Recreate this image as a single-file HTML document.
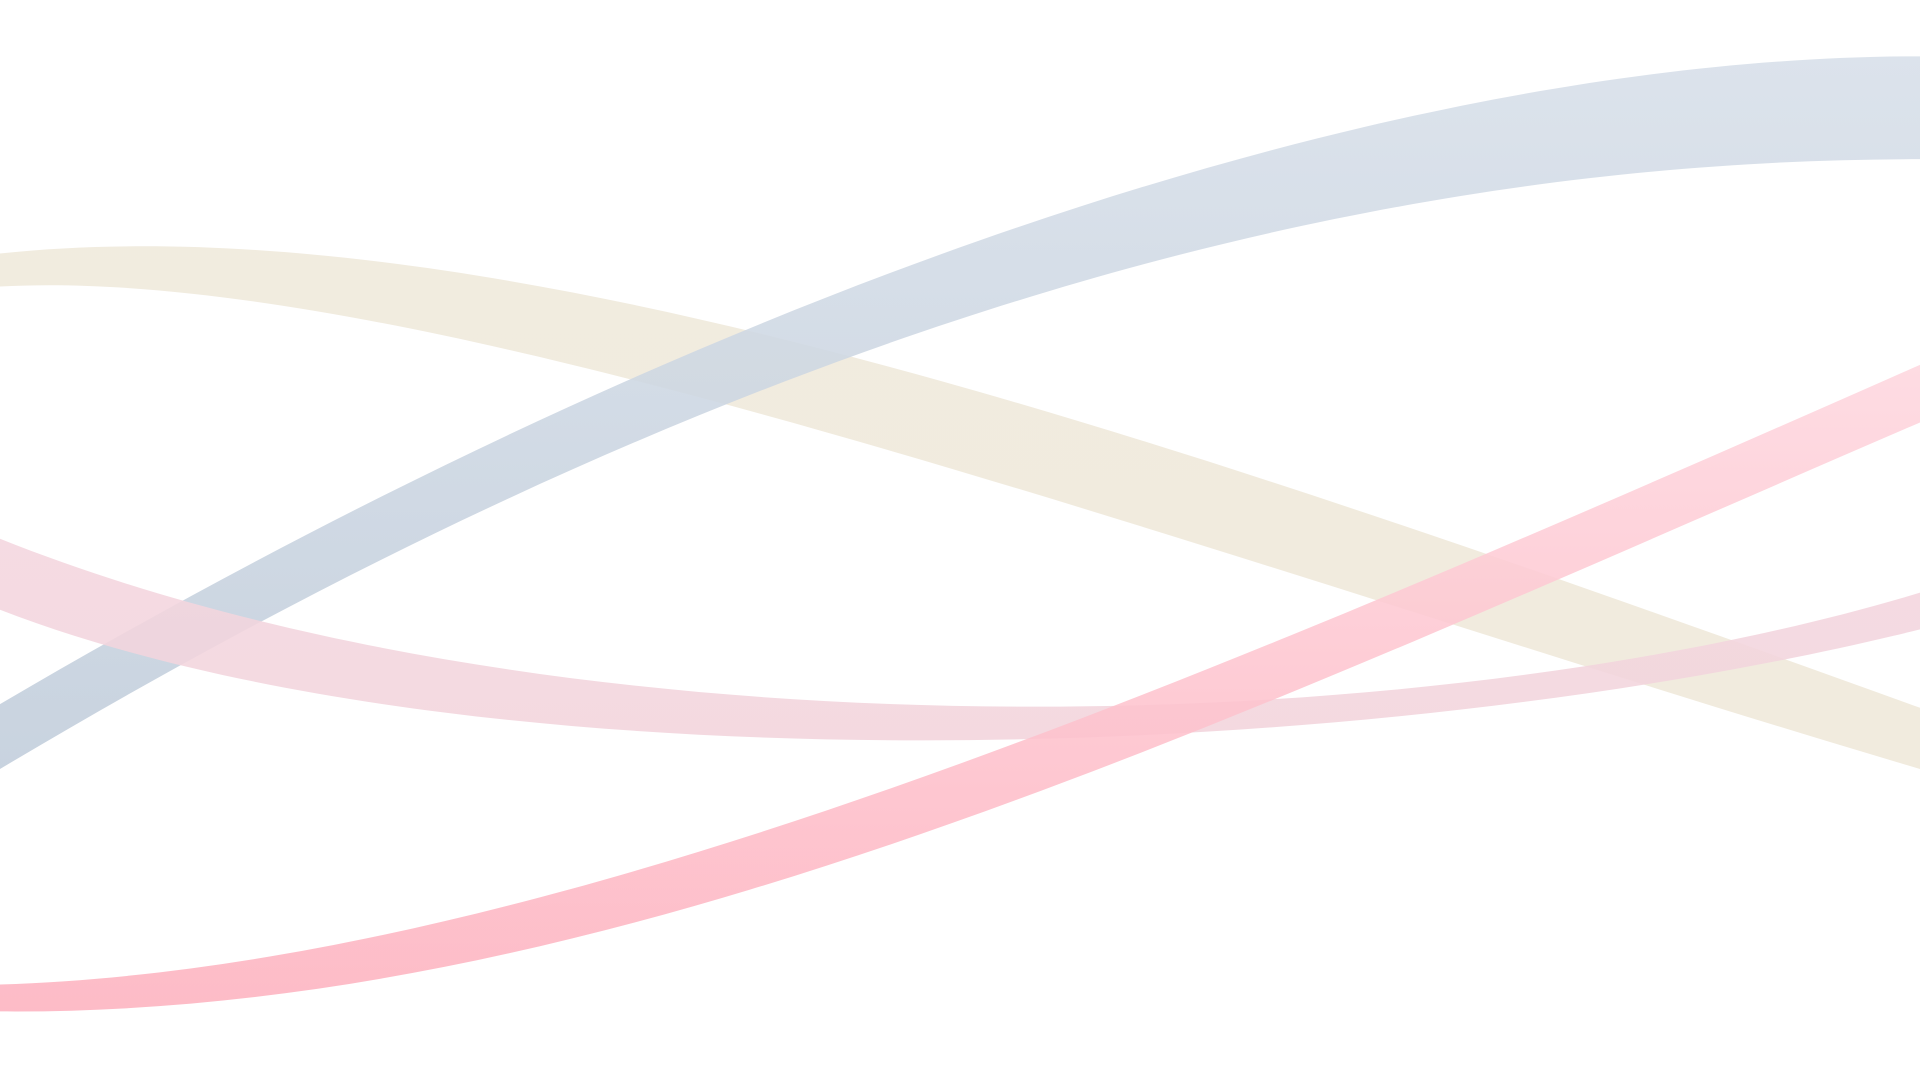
<!DOCTYPE html>
<html>
<head>
<meta charset="utf-8">
<style>
html,body{margin:0;padding:0;background:#fff;width:1920px;height:1080px;overflow:hidden;}
svg{display:block;}
</style>
</head>
<body>
<svg id="chart" width="1920" height="1080" viewBox="0 0 1568 882" preserveAspectRatio="none" xmlns="http://www.w3.org/2000/svg">
<defs>
<linearGradient id="gBlue" x1="0" y1="1" x2="0" y2="0"><stop offset="0" stop-color="#c1cddb"/><stop offset="1" stop-color="#d7dfe9"/></linearGradient>
<linearGradient id="gBeige" x1="0" y1="0" x2="0" y2="1"><stop offset="0" stop-color="#efe9db"/><stop offset="1" stop-color="#efe8d9"/></linearGradient>
<linearGradient id="gPinkL" x1="0" y1="0" x2="0" y2="1"><stop offset="0" stop-color="#f4d6df"/><stop offset="1" stop-color="#f2d4dc"/></linearGradient>
<linearGradient id="gPink" x1="0" y1="1" x2="0" y2="0"><stop offset="0" stop-color="#fdb2bf"/><stop offset="1" stop-color="#fed7df"/></linearGradient>
</defs>
<g id="bands"></g>
</svg>
<script>
const ribbonNames = ['blue-ribbon','beige-ribbon','light-pink-ribbon','pink-ribbon'];
const ribbonFills = ['url(#gBlue)','url(#gBeige)','url(#gPinkL)','url(#gPink)'];
// Each edge: start, control1, control2, end
const blueTopX = [0,600,1150,1568];
const blueTopY = [575,223,46,46];
const blueBotX = [0,650,1150,1568];
const blueBotY = [628,240,130,130];
const beigeTopX = [0,400,950,1568];
const beigeTopY = [207,165,355,578];
const beigeBotX = [0,350,1000,1568];
const beigeBotY = [234,215,460,628];
const pinkLTopX = [0,450,1150,1568];
const pinkLTopY = [440,620,610,484];
const pinkLBotX = [0,380,1100,1568];
const pinkLBotY = [498,645,630,514];
const pinkTopX = [0,450,1000,1568];
const pinkTopY = [804,790,548,298];
const pinkBotX = [0,500,1000,1568];
const pinkBotY = [826,830,590,345];

const tops = [[blueTopX,blueTopY],[beigeTopX,beigeTopY],[pinkLTopX,pinkLTopY],[pinkTopX,pinkTopY]];
const bots = [[blueBotX,blueBotY],[beigeBotX,beigeBotY],[pinkLBotX,pinkLBotY],[pinkBotX,pinkBotY]];
const order = [1,0,2,3];

const g=document.getElementById('bands');
order.forEach(i=>{
  const [tx,ty]=tops[i], [bx,by]=bots[i];
  const d=`M${tx[0]},${ty[0]} C${tx[1]},${ty[1]} ${tx[2]},${ty[2]} ${tx[3]},${ty[3]} L${bx[3]},${by[3]} C${bx[2]},${by[2]} ${bx[1]},${by[1]} ${bx[0]},${by[0]} Z`;
  const path=document.createElementNS('http://www.w3.org/2000/svg','path');
  path.setAttribute('d',d);
  path.setAttribute('fill',ribbonFills[i]);
  path.setAttribute('opacity','0.88');
  
  
  g.appendChild(path);
});
</script>
</body>
</html>
